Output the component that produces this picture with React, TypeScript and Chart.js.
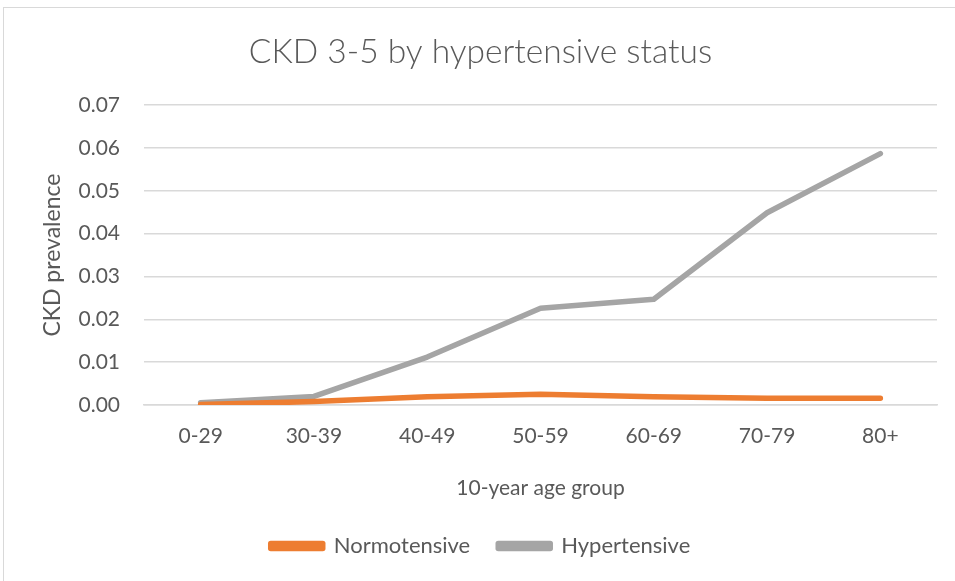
import React, { useEffect, useRef } from "react";
import { Chart, registerables } from "chart.js";

Chart.register(...registerables);

const categories = ["0-29", "30-39", "40-49", "50-59", "60-69", "70-79", "80+"];
const normotensive = [0.0001, 0.0008, 0.0019, 0.0025, 0.0019, 0.0016, 0.0016];
const hypertensive = [0.0005, 0.002, 0.0112, 0.0226, 0.0247, 0.0449, 0.0587];
const yMin = 0;
const yMax = 0.07;
const yStep = 0.01;

const chartTitle = "CKD 3-5 by hypertensive status";
const xTitle = "10-year age group";
const yTitle = "CKD prevalence";
const seriesNames = ["Normotensive", "Hypertensive"];

const FONT = "Lato, 'Open Sans', sans-serif";
const TEXT = "#595959";
const GRID = "#d9d9d9";
const ORANGE = "#ED7D31";
const GRAY = "#A5A5A5";

export default function App() {
  const ref = useRef<HTMLCanvasElement | null>(null);

  useEffect(() => {
    if (!ref.current) return;
    const chart = new Chart(ref.current, {
      type: "line",
      data: {
        labels: categories,
        datasets: [
          {
            label: seriesNames[0],
            data: normotensive,
            borderColor: ORANGE,
            backgroundColor: ORANGE,
            borderWidth: 5.5,
            pointRadius: 0,
            borderCapStyle: "round",
            borderJoinStyle: "round",
            tension: 0,
          },
          {
            label: seriesNames[1],
            data: hypertensive,
            borderColor: GRAY,
            backgroundColor: GRAY,
            borderWidth: 5.5,
            pointRadius: 0,
            borderCapStyle: "round",
            borderJoinStyle: "round",
            tension: 0,
          },
        ],
      },
      options: {
        animation: false,
        responsive: false,
        maintainAspectRatio: false,
        layout: { padding: { left: 24, right: 18, top: 0, bottom: 14 } },
        plugins: {
          title: {
            display: true,
            text: chartTitle,
            color: TEXT,
            font: { family: FONT, size: 33.5, weight: "300" as any },
            padding: { top: 32, bottom: 33 },
          },
          legend: {
            position: "bottom",
            labels: {
              color: TEXT,
              font: { family: FONT, size: 22 },
              boxWidth: 52,
              boxHeight: 5,
              padding: 28,
            },
          },
          tooltip: { enabled: false },
        },
        scales: {
          x: {
            offset: true,
            grid: { display: false, drawTicks: false },
            border: { display: true, color: GRID, width: 1.5 },
            ticks: {
              color: TEXT,
              font: { family: FONT, size: 21 },
              padding: 19,
              maxRotation: 0,
            },
            title: {
              display: true,
              text: xTitle,
              color: TEXT,
              font: { family: FONT, size: 21 },
              padding: { top: 8, bottom: 6 },
            },
            afterFit: (s: any) => {
              s.height = 102;
            },
          },
          y: {
            min: yMin,
            max: yMax,
            grid: { color: GRID, lineWidth: 1.5, drawTicks: false },
            border: { display: false },
            ticks: {
              stepSize: yStep,
              color: TEXT,
              font: { family: FONT, size: 21 },
              padding: 24,
              callback: (v: any) => Number(v).toFixed(2),
            },
            title: {
              display: true,
              text: yTitle,
              color: TEXT,
              font: { family: FONT, size: 23 },
              padding: { top: 15, bottom: 0 },
            },
            afterFit: (s: any) => {
              s.width = 120;
            },
          },
        },
      },
    });
    return () => chart.destroy();
  }, []);

  return (
    <div
      style={{
        position: "fixed",
        left: 0,
        top: 0,
        width: 955,
        height: 581,
        background: "#fff",
        overflow: "hidden",
      }}
    >
      <div
        style={{
          position: "absolute",
          left: 3,
          top: 7,
          width: 1000,
          height: 700,
          borderLeft: "1.5px solid #d9d9d9",
          borderTop: "1.5px solid #d9d9d9",
        }}
      />
      <canvas
        ref={ref}
        width={955}
        height={581}
        style={{ position: "absolute", left: 0, top: 0 }}
      />
    </div>
  );
}
